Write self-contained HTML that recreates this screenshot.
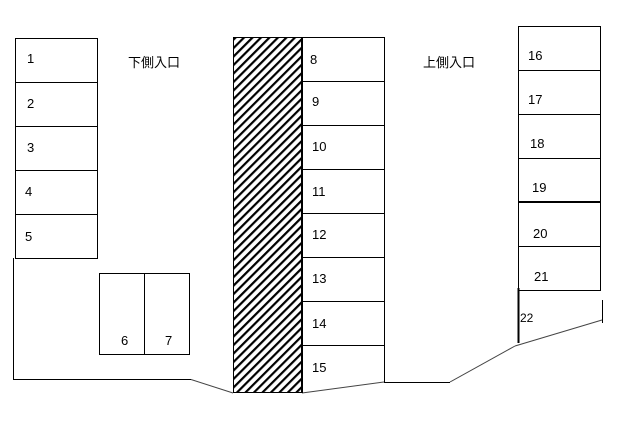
<!DOCTYPE html>
<html><head><meta charset="utf-8"><style>
html,body{margin:0;padding:0;background:#fff;width:619px;height:433px;overflow:hidden}
svg text{font-family:"Liberation Sans","Noto Sans CJK JP",sans-serif;font-size:13px;fill:#000}
</style></head><body>
<svg width="619" height="433" viewBox="0 0 619 433" xmlns="http://www.w3.org/2000/svg">
<defs>
<pattern id="h" width="6" height="6" patternUnits="userSpaceOnUse" patternTransform="rotate(45)">
<rect width="6" height="6" fill="#fff"/><rect width="2.2" height="6" fill="#000"/>
</pattern>
</defs>
<g fill="none" stroke="#000" stroke-width="1">
<rect x="15.5" y="38.5" width="82" height="44"/>
<rect x="15.5" y="82.5" width="82" height="44"/>
<rect x="15.5" y="126.5" width="82" height="44"/>
<rect x="15.5" y="170.5" width="82" height="44"/>
<rect x="15.5" y="214.5" width="82" height="44"/>
<rect x="99.5" y="273.5" width="45" height="81"/>
<rect x="144.5" y="273.5" width="45" height="81"/>
<rect x="302.5" y="37.5" width="82" height="44"/>
<rect x="302.5" y="81.5" width="82" height="44"/>
<rect x="302.5" y="125.5" width="82" height="44"/>
<rect x="302.5" y="169.5" width="82" height="44"/>
<rect x="302.5" y="213.5" width="82" height="44"/>
<rect x="302.5" y="257.5" width="82" height="44"/>
<rect x="302.5" y="301.5" width="82" height="44"/>
<polyline points="384.5,345.5 384.5,382"/>
<rect x="518.5" y="26.5" width="82" height="44"/>
<rect x="518.5" y="70.5" width="82" height="44"/>
<rect x="518.5" y="114.5" width="82" height="44"/>
<rect x="518.5" y="158.5" width="82" height="44"/>
<rect x="518.5" y="202.5" width="82" height="44"/>
<rect x="518.5" y="246.5" width="82" height="44"/>
<polyline points="13.5,258 13.5,379.5 191,379.5"/>
<line x1="191" y1="379.5" x2="233" y2="393" stroke="#444"/>
<line x1="302" y1="393" x2="384" y2="382" stroke="#444"/>
<line x1="384" y1="382.5" x2="450" y2="382.5"/>
<line x1="450" y1="382" x2="515" y2="346" stroke="#444"/>
<line x1="515" y1="346" x2="602" y2="320" stroke="#444"/>
<line x1="602.5" y1="300" x2="602.5" y2="323"/>
</g>
<line x1="518" y1="202" x2="601" y2="202" stroke="#000" stroke-width="2"/>
<line x1="518.5" y1="288" x2="518.5" y2="343" stroke="#000" stroke-width="2"/>
<rect x="233.5" y="37.5" width="68" height="355" fill="url(#h)" stroke="#000" stroke-width="1"/>
<line x1="302" y1="345" x2="302" y2="393" stroke="#000" stroke-width="2"/>
<text x="27" y="63">1</text><text x="27" y="108">2</text><text x="27" y="152">3</text>
<text x="25" y="196">4</text><text x="25" y="241">5</text>
<text x="121" y="345">6</text><text x="165" y="345">7</text>
<text x="310" y="64">8</text><text x="312" y="106">9</text><text x="312" y="151">10</text>
<text x="312" y="196">11</text><text x="312" y="239">12</text><text x="312" y="283">13</text>
<text x="312" y="328">14</text><text x="312" y="372">15</text>
<text x="528" y="60">16</text><text x="528" y="104">17</text><text x="530" y="148">18</text>
<text x="532" y="192">19</text><text x="533" y="238">20</text><text x="534" y="281">21</text>
<text x="520" y="322" style="font-size:12px">22</text>
<text x="128" y="67">下側入口</text>
<text x="423" y="67">上側入口</text>
</svg>
</body></html>
